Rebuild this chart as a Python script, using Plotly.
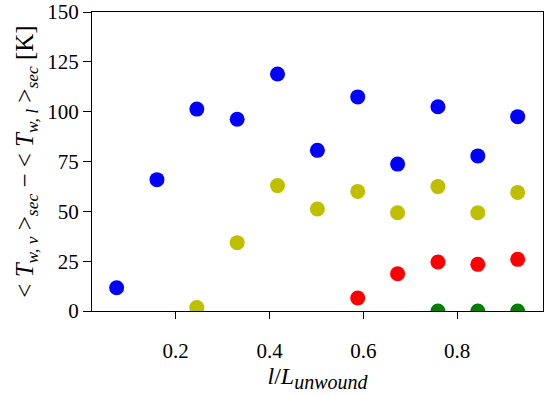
import plotly.graph_objects as go

x_pos = [0.074, 0.16, 0.245, 0.331, 0.417, 0.502, 0.588, 0.673, 0.759, 0.844, 0.929]

blue_x = x_pos
blue_y = [11.7, 65.9, 101.3, 96.2, 118.9, 80.6, 107.4, 73.7, 102.5, 77.8, 97.5]

yellow_x = x_pos[2:]
yellow_y = [1.7, 34.3, 62.9, 51.2, 60.0, 49.3, 62.4, 49.3, 59.5]

red_x = x_pos[6:]
red_y = [6.5, 18.7, 24.6, 23.4, 25.9]

green_x = x_pos[8:]
green_y = [0.0, 0.0, 0.0]

x_ticks = [0.2, 0.4, 0.6, 0.8]
y_ticks = [0, 25, 50, 75, 100, 125, 150]

series = [
    (blue_x, blue_y, "#0000ff"),
    (yellow_x, yellow_y, "#bfbf00"),
    (red_x, red_y, "#ff0000"),
    (green_x, green_y, "#008000"),
]

fig = go.Figure()
for xs, ys, col in series:
    fig.add_trace(go.Scatter(
        x=xs, y=ys, mode="markers",
        marker=dict(size=15, color=col, line=dict(width=0)),
        showlegend=False, cliponaxis=True,
    ))

font = dict(family="Liberation Serif, Times New Roman, serif", size=21, color="black")

fig.update_layout(
    width=550, height=395,
    margin=dict(l=92, r=7, t=12, b=84),
    plot_bgcolor="white", paper_bgcolor="white",
    font=font,
    xaxis=dict(
        range=[0.0215, 0.983], automargin=False,
        tickvals=x_ticks, ticktext=[f"{v:.1f}" for v in x_ticks],
        ticks="outside", ticklen=7, tickwidth=1.3, tickcolor="black",
        ticklabelstandoff=14,
        showline=True, linecolor="black", linewidth=1.3, mirror=True,
        showgrid=False, zeroline=False,
        title=dict(text="<i>l</i>/<i>L</i><sub><span style='font-size:20px'><i>unwound</i></span></sub>",
                   standoff=4, font=dict(size=24)),
    ),
    yaxis=dict(
        range=[0, 150], automargin=False,
        tickvals=y_ticks,
        ticks="outside", ticklen=8, tickwidth=1.3, tickcolor="black",
        showline=True, linecolor="black", linewidth=1.3, mirror=True,
        showgrid=False, zeroline=False,
        title=dict(
            text="&lt; <i>T</i><sub><i>w, v</i></sub> &gt;<sub><i>sec</i></sub> − &lt; <i>T</i><sub><i>w, l</i></sub> &gt;<sub><i>sec</i></sub> [K]",
            standoff=6, font=dict(size=25)),
    ),
)

fig.write_html("out.html", config={"displayModeBar": False},
               post_script="document.body.style.margin='0';")
